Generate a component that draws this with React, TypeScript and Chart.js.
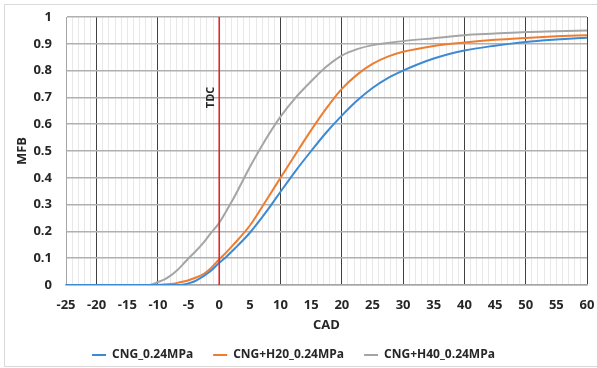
import React, { useEffect, useRef } from 'react';
import { Chart, registerables } from 'chart.js';

Chart.register(...registerables);

const CAD = [-25, -15, -12, -11, -10, -9, -8, -7, -6, -5, -4, -2.5, -1.5, 0, 1, 2.5, 5, 7.5, 10, 12.5, 15, 17.5, 20, 22.5, 25, 27.5, 30, 35, 40, 45, 50, 55, 60];
const CNG = [0, 0, 0, 0, 0, 0, 0, 0, 0.001, 0.006, 0.014, 0.034, 0.05, 0.083, 0.102, 0.135, 0.195, 0.268, 0.348, 0.427, 0.5, 0.57, 0.632, 0.688, 0.735, 0.772, 0.8, 0.845, 0.875, 0.893, 0.907, 0.916, 0.923];
const H20 = [0, 0, 0, 0, 0.001, 0.002, 0.004, 0.007, 0.012, 0.018, 0.026, 0.042, 0.06, 0.096, 0.118, 0.155, 0.222, 0.31, 0.4, 0.49, 0.578, 0.66, 0.732, 0.785, 0.825, 0.852, 0.87, 0.892, 0.905, 0.915, 0.922, 0.928, 0.932];
const H40 = [0, 0, 0, 0.002, 0.011, 0.02, 0.034, 0.052, 0.075, 0.1, 0.122, 0.16, 0.19, 0.232, 0.27, 0.33, 0.44, 0.54, 0.628, 0.7, 0.76, 0.815, 0.856, 0.88, 0.895, 0.903, 0.91, 0.921, 0.932, 0.938, 0.944, 0.947, 0.95];

const SERIES_NAMES = ['CNG_0.24MPa', 'CNG+H20_0.24MPa', 'CNG+H40_0.24MPa'];
const SERIES_COLORS = ['#3d8ad4', '#ed7d31', '#a5a5a5'];
const TDC_VALUE = 0;
const TDC_LABEL = 'TDC';

const FONT = '"Open Sans", "Liberation Sans", sans-serif';
const TEXT = '#262626';

export default function App() {
  const ref = useRef<HTMLCanvasElement | null>(null);

  useEffect(() => {
    if (!ref.current) return;
    const toPts = (ys: number[]) => CAD.map((x, i) => ({ x, y: ys[i] }));
    const all = [CNG, H20, H40];

    const tdcPlugin = {
      id: 'tdc',
      afterDatasetsDraw(chart: any) {
        const { ctx, chartArea, scales } = chart;
        const x = scales.x.getPixelForValue(TDC_VALUE);
        ctx.save();
        ctx.strokeStyle = '#e3262b';
        ctx.lineWidth = 1.6;
        ctx.beginPath();
        ctx.moveTo(x, chartArea.top);
        ctx.lineTo(x, chartArea.bottom);
        ctx.stroke();
        ctx.translate(x - 8, scales.y.getPixelForValue(0.7));
        ctx.rotate(-Math.PI / 2);
        ctx.fillStyle = TEXT;
        ctx.font = `bold 11px ${FONT}`;
        ctx.textAlign = 'center';
        ctx.textBaseline = 'middle';
        ctx.fillText(TDC_LABEL, 0, 0);
        ctx.restore();
      },
    };

    const chart = new Chart(ref.current, {
      type: 'line',
      data: {
        datasets: all.map((ys, i) => ({
          label: SERIES_NAMES[i],
          data: toPts(ys),
          borderColor: SERIES_COLORS[i],
          backgroundColor: SERIES_COLORS[i],
          borderWidth: 2,
          pointRadius: 0,
          cubicInterpolationMode: 'monotone' as const,
          fill: false,
        })),
      },
      options: {
        animation: false,
        responsive: false,
        layout: { padding: { left: 0, right: 10, top: 17, bottom: -3 } },
        plugins: {
          legend: {
            position: 'bottom',
            labels: {
              usePointStyle: true,
              pointStyle: 'line',
              pointStyleWidth: 14,
              padding: 20,
              color: TEXT,
              font: { family: FONT, size: 12, weight: 'bold' },
            },
          },
          tooltip: { enabled: false },
        },
        scales: {
          x: {
            type: 'linear',
            min: -25,
            max: 60,
            afterFit: (s: any) => { s.height = 44; s.paddingRight = 0; s.paddingLeft = 0; },
            ticks: {
              stepSize: 1,
              autoSkip: false,
              maxRotation: 0,
              minRotation: 0,
              padding: 12,
              color: TEXT,
              font: { family: FONT, size: 13, weight: 'bold' },
              callback: (v: any) => (Number(v) % 5 === 0 ? String(v) : ''),
            },
            grid: {
              drawTicks: false,
              color: (c: any) => {
                const v = c.tick ? c.tick.value : NaN;
                if (v === -25) return '#a6a6a6';
                if (v === 0) return '#e8e8e8';
                if (v % 10 === 0) return '#404040';
                return '#e8e8e8';
              },
              lineWidth: 1,
            },
            border: { display: true, color: '#a6a6a6', width: 1.5 },
            title: {
              display: true,
              text: 'CAD',
              color: TEXT,
              font: { family: FONT, size: 13, weight: 'bold' },
              padding: { top: 0, bottom: -4 },
            },
          },
          y: {
            min: 0,
            max: 1,
            afterFit: (s: any) => { s.width = 66; s.paddingTop = 0; s.paddingBottom = 0; },
            ticks: {
              stepSize: 0.1,
              padding: 14,
              color: TEXT,
              font: { family: FONT, size: 13, weight: 'bold' },
              callback: (v: any) => String(Number(Number(v).toFixed(1))),
            },
            grid: { drawTicks: false, color: '#b0b0b0', lineWidth: 1.5 },
            border: { display: true, color: '#a6a6a6', width: 1 },
            title: {
              display: true,
              text: 'MFB',
              color: TEXT,
              font: { family: FONT, size: 13, weight: 'bold' },
              padding: { top: 14, bottom: 0 },
            },
          },
        },
      },
      plugins: [tdcPlugin],
    } as any);
    return () => chart.destroy();
  }, []);

  return (
    <div style={{ position: 'absolute', left: 0, top: 0, width: 597, height: 368, background: '#fff', overflow: 'hidden' }}>
      <canvas ref={ref} width={597} height={368} style={{ display: 'block' }} />
      <div style={{ position: 'absolute', left: 4, top: 4, width: 620, height: 361, border: '1px solid #d9d9d9', pointerEvents: 'none' }} />
    </div>
  );
}
